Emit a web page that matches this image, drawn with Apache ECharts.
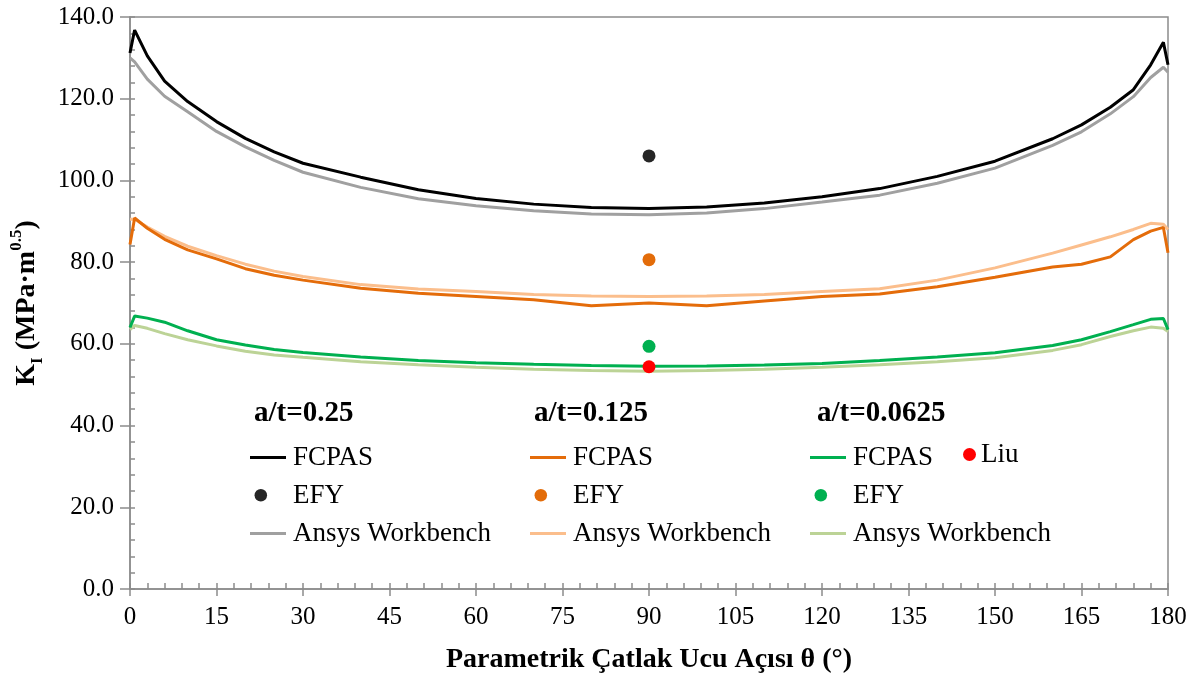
<!DOCTYPE html>
<html>
<head>
<meta charset="utf-8">
<title>KI vs theta</title>
<script src="https://cdn.jsdelivr.net/npm/echarts@6/dist/echarts.min.js"></script>
<style>
  html, body { margin: 0; padding: 0; background: #fff; }
  #chart { width: 1201px; height: 679px; }
</style>
</head>
<body>
<div id="chart"></div>
<script>
  // crack front angle (deg)
  const theta = [0, 0.8, 3, 6, 10, 15, 20, 25, 30, 40, 50, 60, 70, 80, 90, 100, 110, 120, 130, 140, 150, 160, 165, 170, 174, 177, 179.2, 180]

  // a/t = 0.25
  const fcpas25 = [131.2, 136.8, 130.5, 124.3, 119.3, 114.4, 110.3, 107.0, 104.2, 100.8, 97.7, 95.6, 94.2, 93.4, 93.1, 93.5, 94.5, 96.0, 98.0, 101.0, 104.7, 110.2, 113.6, 117.9, 122.2, 128.3, 133.8, 128.3]
  const ansys25 = [130.0, 129.0, 124.8, 120.6, 116.8, 112.0, 108.2, 104.9, 102.0, 98.3, 95.5, 93.8, 92.6, 91.8, 91.6, 92.0, 93.1, 94.7, 96.4, 99.3, 103.0, 108.6, 111.9, 116.3, 120.5, 125.2, 127.7, 126.5]

  // a/t = 0.125
  const fcpas125 = [84.3, 90.8, 88.3, 85.6, 83.0, 80.8, 78.4, 76.8, 75.6, 73.6, 72.4, 71.6, 70.8, 69.3, 70.0, 69.3, 70.5, 71.6, 72.2, 74.0, 76.3, 78.8, 79.5, 81.3, 85.5, 87.6, 88.5, 82.3]
  const ansys125 = [90.5, 90.5, 88.6, 86.3, 83.9, 81.6, 79.5, 77.8, 76.5, 74.5, 73.4, 72.8, 72.1, 71.7, 71.6, 71.7, 72.1, 72.8, 73.5, 75.6, 78.6, 82.2, 84.2, 86.2, 88.0, 89.5, 89.3, 88.0]

  // a/t = 0.0625
  const fcpas0625 = [64.0, 66.8, 66.3, 65.3, 63.2, 61.0, 59.7, 58.6, 57.9, 56.8, 55.9, 55.4, 55.0, 54.7, 54.5, 54.6, 54.8, 55.2, 55.9, 56.8, 57.8, 59.6, 61.0, 63.0, 64.7, 66.0, 66.2, 63.5]
  const ansys0625 = [63.5, 64.5, 63.8, 62.5, 61.0, 59.5, 58.2, 57.3, 56.7, 55.6, 54.9, 54.3, 53.8, 53.5, 53.3, 53.5, 53.8, 54.3, 54.9, 55.6, 56.6, 58.4, 59.8, 61.8, 63.2, 64.1, 63.8, 63.0]

  // single-point results at theta = 90
  const efyTheta = 90
  const efy = [106.0, 80.6, 59.4]
  const liu = 54.4

  const groups = ['0.25', '0.125', '0.0625']

  const serif = 'Liberation Serif'
  const axisGrey = '#8c8c8c'
  // bounding box padded with bare moveTo points so the icon keeps its size
  const dotIcon = 'path://M0,0 M4,6a6.5,6.5 0 1,0 13,0a6.5,6.5 0 1,0 -13,0 M38,13'
  const lineIcon = 'path://M0,0 M0,5 L36,5 L36,8 L0,8 Z M38,13'

  const pairs = (ys) => theta.map((t, i) => [t, ys[i]])

  const lineSeries = (name, ys, color, z) => ({
    name,
    type: 'line',
    data: pairs(ys),
    symbol: 'none',
    z,
    lineStyle: { color, width: 3 },
    itemStyle: { color }
  })

  const dotSeries = (name, y, color) => ({
    name,
    type: 'scatter',
    data: [[efyTheta, y]],
    symbol: 'circle',
    symbolSize: 13,
    z: 5,
    itemStyle: { color, opacity: 1 }
  })

  const legendText = { fontFamily: serif, fontSize: 27, lineHeight: 26, color: '#000' }

  const legendCol = (left, names) => ({
    orient: 'vertical',
    left,
    top: 444,
    itemWidth: 38,
    itemHeight: 13,
    itemGap: 11,
    padding: 0,
    selectedMode: false,
    formatter: (n) => n.split('|')[0],
    textStyle: legendText,
    data: [
      { name: names[0], icon: lineIcon },
      { name: names[1], icon: dotIcon },
      { name: names[2], icon: lineIcon }
    ]
  })

  const chart = echarts.init(document.getElementById('chart'))

  chart.setOption({
    animation: false,
    backgroundColor: '#fff',
    grid: {
      left: 128,
      right: 33,
      top: 17,
      bottom: 89,
      show: true,
      borderColor: axisGrey,
      borderWidth: 1.5
    },
    title: groups.map((g, i) => ({
      text: 'a/t=' + g,
      left: [254, 534, 817][i],
      top: 399,
      padding: 0,
      textStyle: { fontFamily: serif, fontSize: 29, lineHeight: 29, fontWeight: 'bold', color: '#000' }
    })),
    legend: [
      legendCol(250, ['FCPAS|0.25', 'EFY|0.25', 'Ansys Workbench|0.25']),
      legendCol(530, ['FCPAS|0.125', 'EFY|0.125', 'Ansys Workbench|0.125']),
      legendCol(810, ['FCPAS|0.0625', 'EFY|0.0625', 'Ansys Workbench|0.0625']),
      {
        left: 963,
        top: 441,
        itemWidth: 13,
        itemHeight: 13,
        padding: 0,
        selectedMode: false,
        textStyle: legendText,
        data: [{ name: 'Liu', icon: 'circle' }]
      }
    ],
    xAxis: [
      {
        type: 'value',
        min: 0,
        max: 180,
        interval: 15,
        name: 'Parametrik Çatlak Ucu Açısı θ (°)',
        nameLocation: 'middle',
        nameGap: 57,
        nameTextStyle: { fontFamily: serif, fontSize: 28, fontWeight: 'bold', color: '#000' },
        axisLine: { lineStyle: { color: axisGrey, width: 1.5 } },
        axisTick: { length: 7, lineStyle: { color: axisGrey, width: 1.5 } },
        axisLabel: { margin: 16, fontFamily: serif, fontSize: 25, color: '#000' },
        splitLine: { show: false }
      },
      {
        // inner minor ticks every 3 deg
        type: 'value',
        position: 'bottom',
        min: 0,
        max: 180,
        interval: 3,
        axisLine: { show: false },
        axisTick: { inside: true, length: 6, lineStyle: { color: axisGrey, width: 1.5 } },
        axisLabel: { show: false },
        splitLine: { show: false }
      }
    ],
    yAxis: [
      {
        type: 'value',
        min: 0,
        max: 140,
        interval: 20,
        name: '{b|K}{sub|I}{b| (MPa·m}{sup|0.5}{b|)}',
        nameLocation: 'middle',
        nameRotate: 90,
        nameGap: 84,
        nameTextStyle: {
          rich: {
            b: { fontFamily: serif, fontSize: 28, fontWeight: 'bold', color: '#000', lineHeight: 38 },
            sub: { fontFamily: serif, fontSize: 17, fontWeight: 'bold', color: '#000', lineHeight: 16, verticalAlign: 'bottom' },
            sup: { fontFamily: serif, fontSize: 17, fontWeight: 'bold', color: '#000', lineHeight: 16, verticalAlign: 'top' }
          }
        },
        axisLine: { show: true, lineStyle: { color: axisGrey, width: 1.5 } },
        axisTick: { show: true, length: 10, lineStyle: { color: axisGrey, width: 1.5 } },
        axisLabel: {
          margin: 16,
          fontFamily: serif,
          fontSize: 25,
          color: '#000',
          formatter: (v) => v.toFixed(1)
        },
        splitLine: { show: false }
      },
      {
        // inner minor ticks every 4 units
        type: 'value',
        position: 'left',
        min: 0,
        max: 140,
        interval: 4,
        axisLine: { show: false },
        axisTick: { show: true, inside: true, length: 5, lineStyle: { color: axisGrey, width: 1.5 } },
        axisLabel: { show: false },
        splitLine: { show: false }
      }
    ],
    series: [
      lineSeries('Ansys Workbench|0.25', ansys25, '#a0a0a0', 2),
      lineSeries('Ansys Workbench|0.125', ansys125, '#fbbe8c', 2),
      lineSeries('Ansys Workbench|0.0625', ansys0625, '#bcd396', 2),
      lineSeries('FCPAS|0.25', fcpas25, '#000000', 3),
      lineSeries('FCPAS|0.125', fcpas125, '#e46c0a', 3),
      lineSeries('FCPAS|0.0625', fcpas0625, '#00b050', 3),
      dotSeries('EFY|0.25', efy[0], '#262626'),
      dotSeries('EFY|0.125', efy[1], '#e36c09'),
      dotSeries('EFY|0.0625', efy[2], '#00b050'),
      dotSeries('Liu', liu, '#ff0000')
    ]
  })

  window.addEventListener('resize', () => chart.resize())
</script>
</body>
</html>
